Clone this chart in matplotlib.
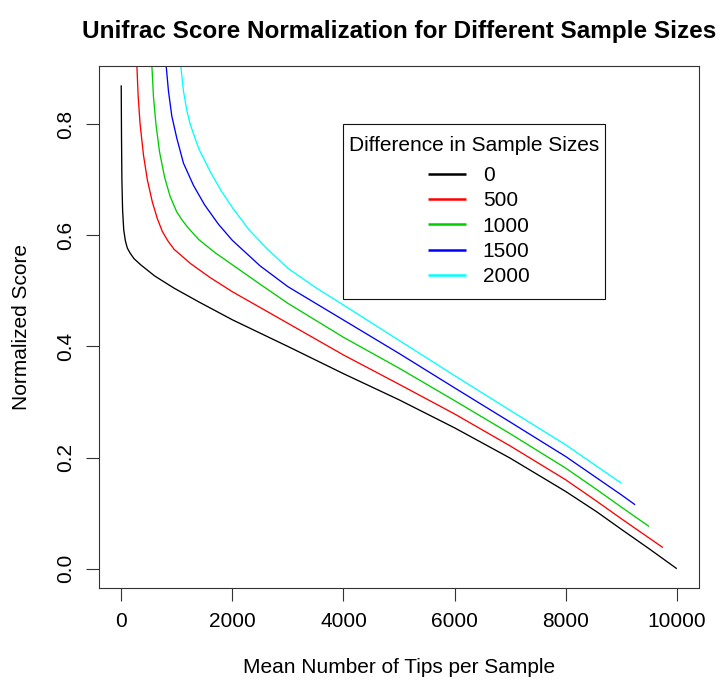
import matplotlib
matplotlib.use("Agg")
import matplotlib.pyplot as plt
from matplotlib.offsetbox import DrawingArea

plt.rcParams['font.family'] = ['Liberation Sans', 'DejaVu Sans']

title = "Unifrac Score Normalization for Different Sample Sizes"
xlabel = "Mean Number of Tips per Sample"
ylabel = "Normalized Score"
legend_title = "Difference in Sample Sizes"

series_labels = ["0", "500", "1000", "1500", "2000"]
series_colors = ["#000000", "#FF0000", "#00CD00", "#0000FF", "#00FFFF"]

# Series values (x = mean number of tips, y = normalized score)
x_0 = [0, 5, 12, 25, 45, 75, 110, 160, 230, 350, 600, 950, 1400, 2000, 3000,
       4000, 5000, 6000, 7000, 8000, 8550, 9000, 9500, 10000]
y_0 = [0.870, 0.780, 0.700, 0.645, 0.610, 0.590, 0.577, 0.568, 0.558, 0.547,
       0.527, 0.505, 0.480, 0.448, 0.400, 0.351, 0.304, 0.2535, 0.199, 0.139,
       0.103, 0.071, 0.036, 0.000]

x_500 = [250, 282, 305, 340, 400, 470, 560, 650, 740, 840, 950, 1250, 1600, 2000,
         3000, 4000, 5000, 6000, 7000, 8000, 8550, 9000, 9750]
y_500 = [1.200, 0.905, 0.850, 0.800, 0.745, 0.700, 0.660, 0.630, 0.607, 0.590,
         0.575, 0.549, 0.524, 0.4985, 0.4417, 0.3847, 0.332, 0.2785, 0.221, 0.160,
         0.122, 0.090, 0.038]

x_1000 = [500, 552, 580, 625, 690, 780, 880, 1000, 1100, 1200, 1400, 1700, 2000,
          2500, 3000, 4000, 5000, 6000, 7000, 8000, 8550, 9000, 9500]
y_1000 = [1.200, 0.905, 0.850, 0.800, 0.750, 0.705, 0.670, 0.642, 0.627, 0.614,
          0.592, 0.568, 0.547, 0.512, 0.4776, 0.4165, 0.361, 0.3025, 0.243, 0.181,
          0.143, 0.111, 0.076]

x_1500 = [750, 809, 850, 910, 1000, 1120, 1300, 1500, 1750, 2000, 2500, 3000,
          4000, 5000, 6000, 7000, 8000, 8550, 9000, 9250]
y_1500 = [1.200, 0.905, 0.860, 0.815, 0.775, 0.730, 0.690, 0.655, 0.620, 0.591,
          0.545, 0.5076, 0.4476, 0.3875, 0.3255, 0.264, 0.2019, 0.164, 0.133, 0.115]

x_2000 = [1000, 1072, 1120, 1180, 1241, 1400, 1600, 1800, 2000, 2300, 2620, 3000,
          3500, 4000, 5000, 6000, 7000, 8000, 8550, 9000]
y_2000 = [1.200, 0.905, 0.860, 0.825, 0.800, 0.755, 0.715, 0.680, 0.650, 0.610,
          0.5765, 0.5406, 0.506, 0.4746, 0.411, 0.3475, 0.285, 0.2229, 0.185, 0.154]

xs = [x_0, x_500, x_1000, x_1500, x_2000]
ys = [y_0, y_500, y_1000, y_1500, y_2000]

x_ticks = [0, 2000, 4000, 6000, 8000, 10000]
y_ticks = [0.0, 0.2, 0.4, 0.6, 0.8]
y_ticklabels = ["0.0", "0.2", "0.4", "0.6", "0.8"]

W, H = 722, 694
fig = plt.figure(figsize=(W / 100, H / 100), dpi=100)
L, R, T, B = 99, 699, 66, 588
ax = fig.add_axes([L / W, (H - B) / H, (R - L) / W, (B - T) / H])

for xv, yv, c, lab in zip(xs, ys, series_colors, series_labels):
    ax.plot(xv, yv, color=c, lw=0.95, label=lab, solid_capstyle='butt')

ax.set_xlim(-400, 10400)
ax.set_ylim(-0.0348, 0.9048)

fs = 15
ax.set_xticks(x_ticks)
ax.set_xticklabels([str(v) for v in x_ticks], fontsize=fs)
ax.set_yticks(y_ticks)
ax.set_yticklabels(y_ticklabels, fontsize=fs, rotation=90, va='center')
ax.tick_params(direction='out', length=9.4, width=0.8, pad=8, color='#333333')
for s in ax.spines.values():
    s.set_linewidth(0.8)
    s.set_color('#333333')

ax.set_xlabel(xlabel, fontsize=fs, labelpad=19)
ax.set_ylabel(ylabel, fontsize=fs, labelpad=18)
fig.suptitle(title, fontsize=17.5, fontweight='bold', x=(L + R) / 2 / W, y=1 - 20 / H, va='top')

leg = ax.legend(title=legend_title, fontsize=fs, title_fontsize=fs,
                loc='upper left',
                bbox_to_anchor=((343 - L) / (R - L), (B - 124) / (B - T)),
                frameon=True, fancybox=False, edgecolor='#111111', framealpha=1,
                handlelength=1.85, handletextpad=0.8, labelspacing=0.305,
                borderpad=0.29, borderaxespad=0)
leg.get_frame().set_linewidth(0.8)
# extra vertical spacing inside the legend box (R-style layout)
box = leg._legend_box
hbox = leg._legend_handle_box
box.sep = 0
hbox.pad = 5.1
hbox.sep = 0
hbox._children.insert(0, DrawingArea(6.5, 0.1))
box._children = [DrawingArea(1, 4.0), leg._legend_title_box,
                 DrawingArea(1, 3.05), hbox]
for h in leg.legend_handles:
    h.set_linewidth(1.8)

fig.savefig("out.png", dpi=100)
